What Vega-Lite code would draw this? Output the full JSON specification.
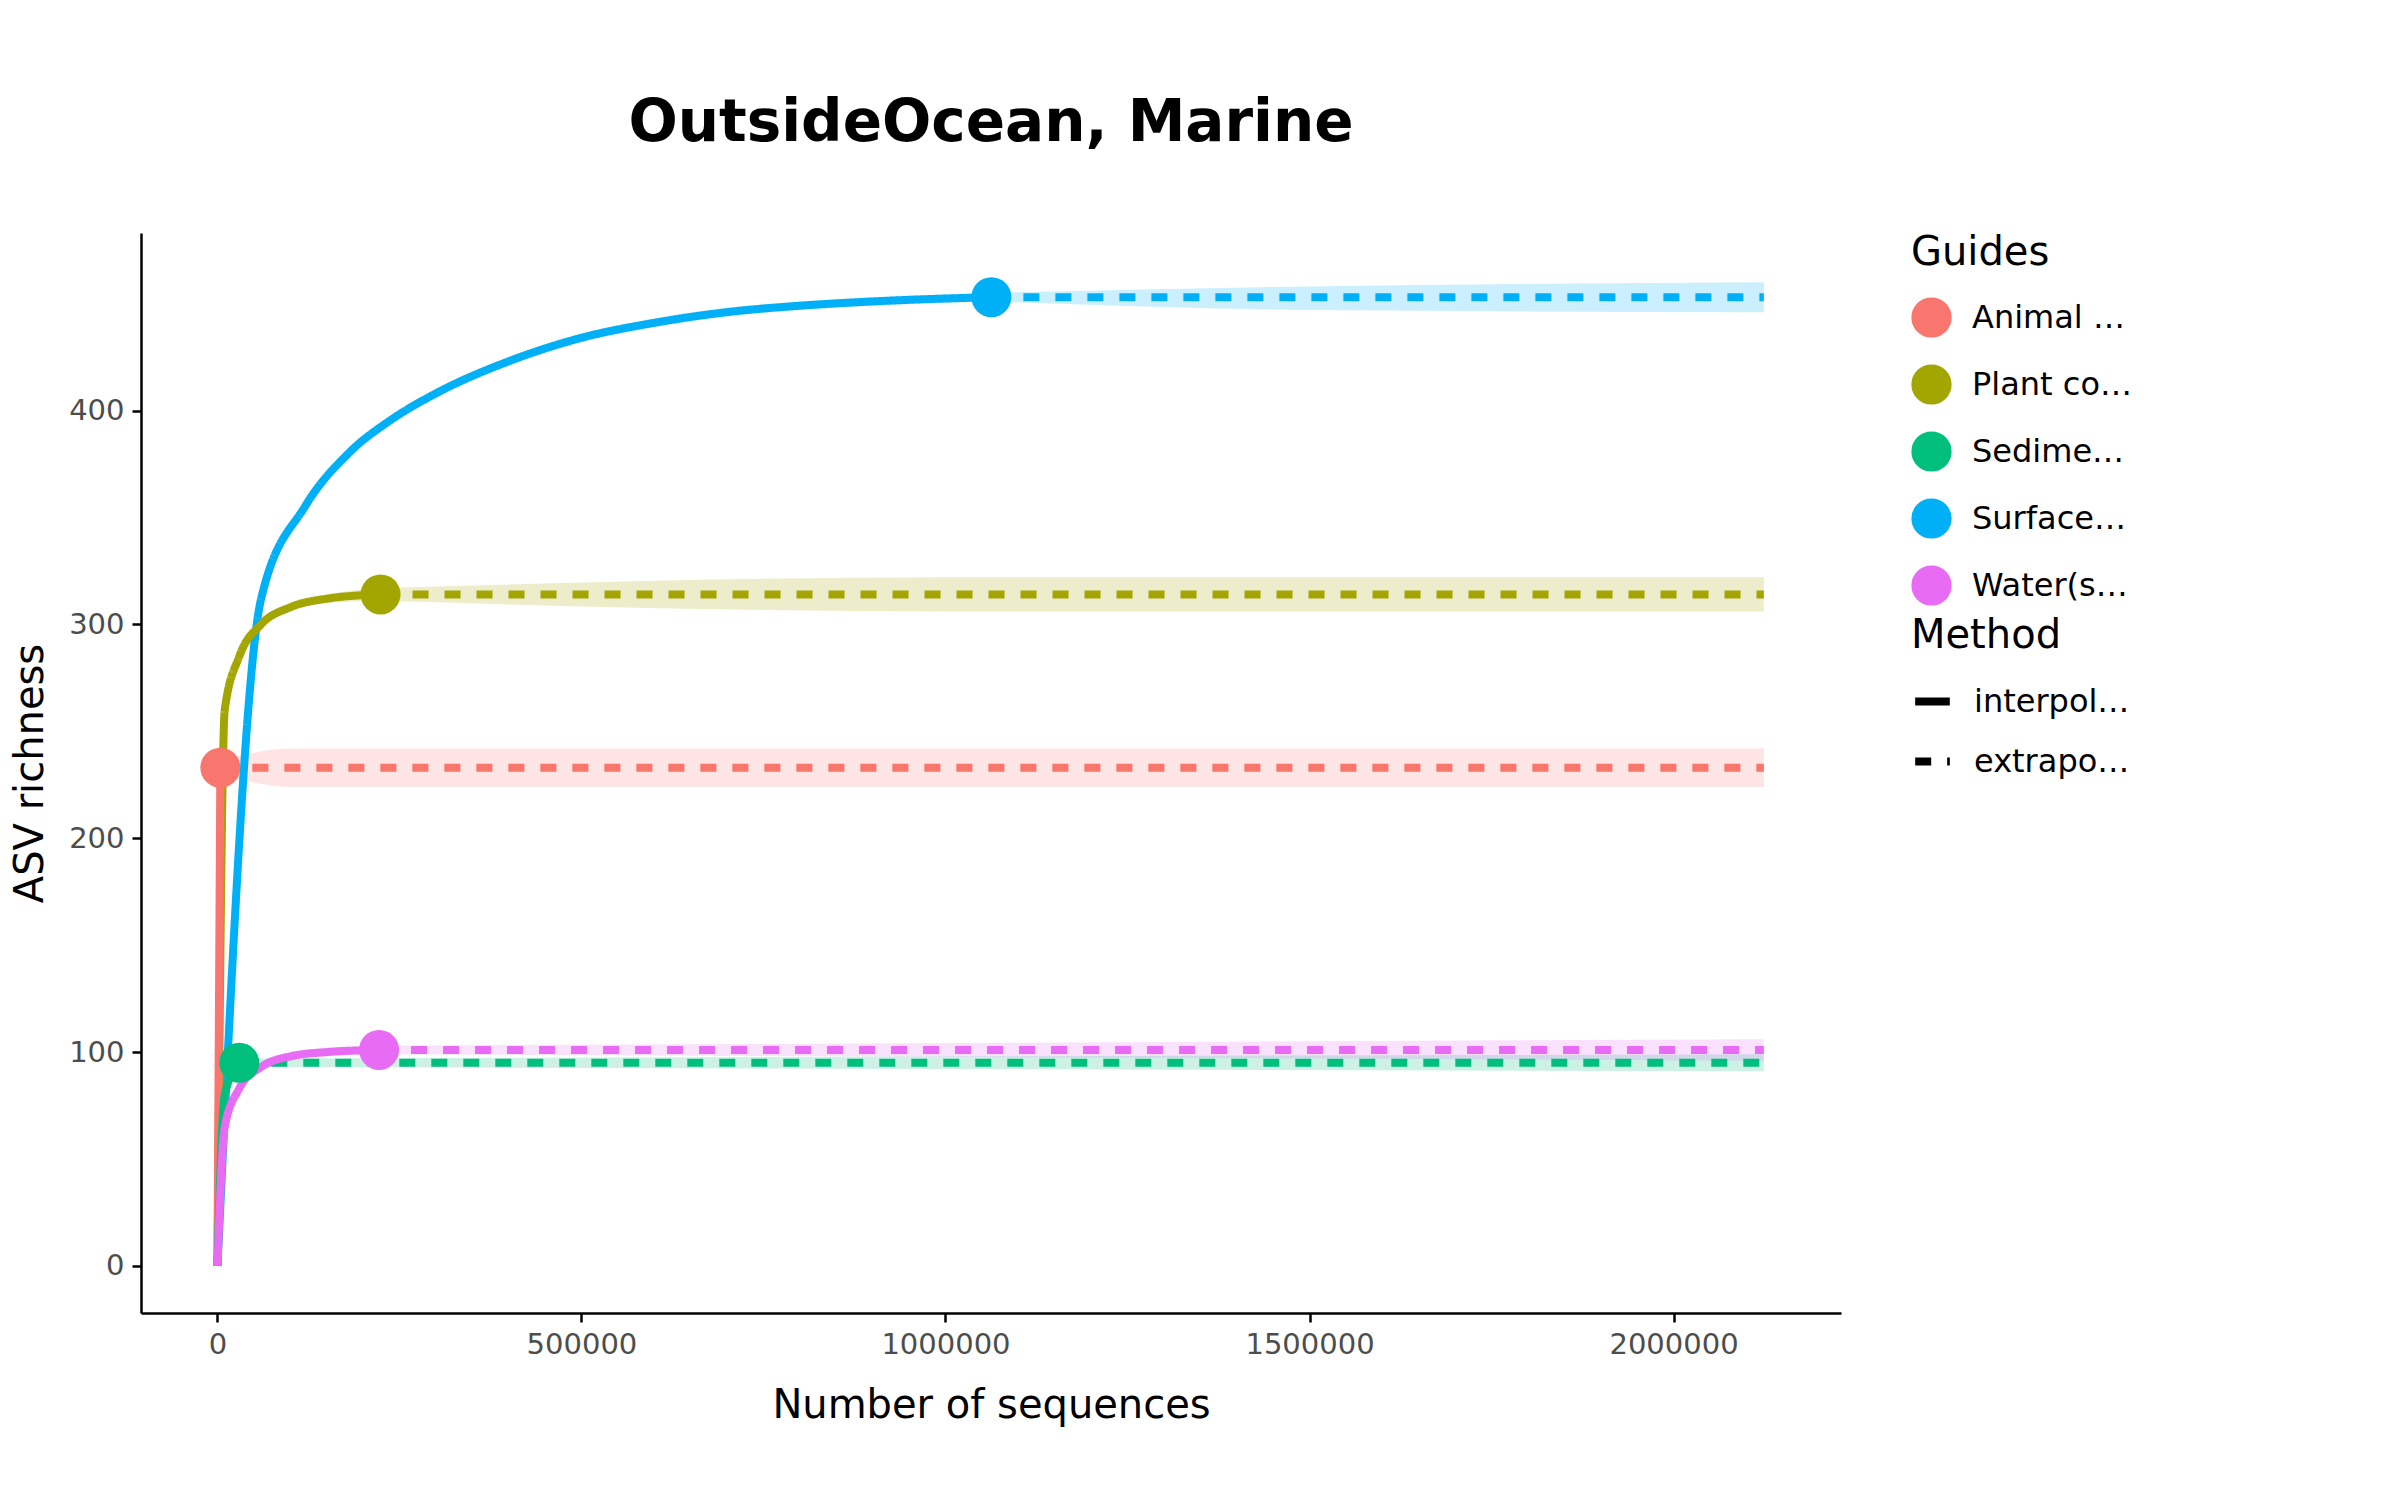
{
  "$schema": "https://vega.github.io/schema/vega-lite/v6.json",
  "width": 1700,
  "height": 1080,
  "padding": {"left": 10, "top": 95, "right": 40, "bottom": 20},
  "background": "white",
  "config": {
    "font": "DejaVu Sans",
    "view": {"stroke": null},
    "axis": {"grid": false, "domainColor": "black", "domainWidth": 2.5, "tickColor": "black", "tickWidth": 2.5, "tickSize": 9, "labelFontSize": 29, "labelColor": "#4d4d4d", "titleFontSize": 40, "titleFontWeight": "normal", "titleColor": "black", "labelPadding": 8},
    "legend": {"titleFontSize": 40, "titleFontWeight": "normal", "labelFontSize": 32, "titlePadding": 24, "rowPadding": 22, "labelOffset": 20, "offset": 70, "padding": 0}
  },
  "title": {"text": "OutsideOcean, Marine", "fontSize": 58, "fontWeight": "bold", "offset": 80, "anchor": "middle"},
  "data": {"values": [
    {"group": "Surface (saline)", "x": 0, "y": 0, "lo": 0, "hi": 0, "method": "interpolated"},
    {"group": "Surface (saline)", "x": 60000, "y": 312, "lo": 310, "hi": 314, "method": "interpolated"},
    {"group": "Surface (saline)", "x": 120000, "y": 355, "lo": 353, "hi": 357, "method": "interpolated"},
    {"group": "Surface (saline)", "x": 180000, "y": 380, "lo": 378, "hi": 382, "method": "interpolated"},
    {"group": "Surface (saline)", "x": 240000, "y": 396, "lo": 394, "hi": 398, "method": "interpolated"},
    {"group": "Surface (saline)", "x": 300000, "y": 408, "lo": 406, "hi": 410, "method": "interpolated"},
    {"group": "Surface (saline)", "x": 400000, "y": 423, "lo": 421, "hi": 425, "method": "interpolated"},
    {"group": "Surface (saline)", "x": 500000, "y": 434, "lo": 432, "hi": 436, "method": "interpolated"},
    {"group": "Surface (saline)", "x": 600000, "y": 441, "lo": 439, "hi": 443, "method": "interpolated"},
    {"group": "Surface (saline)", "x": 700000, "y": 446, "lo": 444, "hi": 448, "method": "interpolated"},
    {"group": "Surface (saline)", "x": 800000, "y": 449, "lo": 447, "hi": 451, "method": "interpolated"},
    {"group": "Surface (saline)", "x": 900000, "y": 451, "lo": 449, "hi": 453, "method": "interpolated"},
    {"group": "Surface (saline)", "x": 1063000, "y": 453, "lo": 451, "hi": 455, "method": "interpolated", "obs": true},
    {"group": "Surface (saline)", "x": 1063000, "y": 453, "lo": 451, "hi": 455, "method": "extrapolated"},
    {"group": "Surface (saline)", "x": 1500000, "y": 453, "lo": 447, "hi": 458, "method": "extrapolated"},
    {"group": "Surface (saline)", "x": 2124000, "y": 453, "lo": 446, "hi": 460, "method": "extrapolated"},
    {"group": "Plant corpus", "x": 0, "y": 0, "lo": 0, "hi": 0, "method": "interpolated"},
    {"group": "Plant corpus", "x": 10000, "y": 260, "lo": 258, "hi": 262, "method": "interpolated"},
    {"group": "Plant corpus", "x": 30000, "y": 285, "lo": 283, "hi": 287, "method": "interpolated"},
    {"group": "Plant corpus", "x": 60000, "y": 300, "lo": 298, "hi": 302, "method": "interpolated"},
    {"group": "Plant corpus", "x": 100000, "y": 308, "lo": 306, "hi": 310, "method": "interpolated"},
    {"group": "Plant corpus", "x": 150000, "y": 312, "lo": 310, "hi": 314, "method": "interpolated"},
    {"group": "Plant corpus", "x": 224000, "y": 314, "lo": 311, "hi": 317, "method": "interpolated", "obs": true},
    {"group": "Plant corpus", "x": 224000, "y": 314, "lo": 311, "hi": 317, "method": "extrapolated"},
    {"group": "Plant corpus", "x": 1000000, "y": 314, "lo": 306, "hi": 322, "method": "extrapolated"},
    {"group": "Plant corpus", "x": 2124000, "y": 314, "lo": 306, "hi": 322, "method": "extrapolated"},
    {"group": "Animal corpus", "x": 0, "y": 0, "lo": 0, "hi": 0, "method": "interpolated"},
    {"group": "Animal corpus", "x": 4000, "y": 233, "lo": 230, "hi": 236, "method": "interpolated", "obs": true},
    {"group": "Animal corpus", "x": 4000, "y": 233, "lo": 230, "hi": 236, "method": "extrapolated"},
    {"group": "Animal corpus", "x": 100000, "y": 233, "lo": 224, "hi": 242, "method": "extrapolated"},
    {"group": "Animal corpus", "x": 2124000, "y": 233, "lo": 224, "hi": 242, "method": "extrapolated"},
    {"group": "Sediment(saline)", "x": 0, "y": 0, "lo": 0, "hi": 0, "method": "interpolated"},
    {"group": "Sediment(saline)", "x": 10000, "y": 80, "lo": 78, "hi": 82, "method": "interpolated"},
    {"group": "Sediment(saline)", "x": 30000, "y": 95, "lo": 93, "hi": 97, "method": "interpolated", "obs": true},
    {"group": "Sediment(saline)", "x": 30000, "y": 95, "lo": 93, "hi": 97, "method": "extrapolated"},
    {"group": "Sediment(saline)", "x": 2124000, "y": 95, "lo": 91, "hi": 99, "method": "extrapolated"},
    {"group": "Water(saline)", "x": 0, "y": 0, "lo": 0, "hi": 0, "method": "interpolated"},
    {"group": "Water(saline)", "x": 10000, "y": 65, "lo": 63, "hi": 67, "method": "interpolated"},
    {"group": "Water(saline)", "x": 30000, "y": 83, "lo": 81, "hi": 85, "method": "interpolated"},
    {"group": "Water(saline)", "x": 60000, "y": 93, "lo": 91, "hi": 95, "method": "interpolated"},
    {"group": "Water(saline)", "x": 100000, "y": 98, "lo": 96, "hi": 100, "method": "interpolated"},
    {"group": "Water(saline)", "x": 150000, "y": 100, "lo": 98, "hi": 102, "method": "interpolated"},
    {"group": "Water(saline)", "x": 222000, "y": 101, "lo": 99, "hi": 103, "method": "interpolated", "obs": true},
    {"group": "Water(saline)", "x": 222000, "y": 101, "lo": 99, "hi": 103, "method": "extrapolated"},
    {"group": "Water(saline)", "x": 2124000, "y": 101, "lo": 96, "hi": 106, "method": "extrapolated"}
  ]},
  "encoding": {
    "x": {"field": "x", "type": "quantitative", "title": "Number of sequences", "scale": {"domain": [-105000, 2230000], "nice": false, "zero": false}, "axis": {"values": [0, 500000, 1000000, 1500000, 2000000], "format": "d", "titlePadding": 26}},
    "color": {"field": "group", "type": "nominal", "title": "Guides", "scale": {"domain": ["Animal corpus", "Plant corpus", "Sediment(saline)", "Surface (saline)", "Water(saline)"], "range": ["#F8766D", "#A3A500", "#00BF7D", "#00B0F6", "#E76BF3"]}, "legend": {"symbolType": "circle", "symbolSize": 1500, "symbolOpacity": 1}}
  },
  "layer": [
    {
      "mark": {"type": "area", "opacity": 0.2, "interpolate": "monotone"},
      "encoding": {
        "y": {"field": "lo", "type": "quantitative"},
        "y2": {"field": "hi"},
        "detail": {"field": "method"}
      }
    },
    {
      "mark": {"type": "line", "strokeWidth": 8, "interpolate": "monotone"},
      "encoding": {
        "y": {"field": "y", "type": "quantitative", "title": "ASV richness", "scale": {"domain": [-22, 483], "nice": false, "zero": false}, "axis": {"values": [0, 100, 200, 300, 400], "titlePadding": 18}},
        "strokeDash": {"field": "method", "type": "nominal", "title": "Method", "scale": {"domain": ["interpolated", "extrapolated"], "range": [[1, 0], [16, 16]]}, "legend": {"symbolType": "stroke", "symbolStrokeWidth": 8, "symbolSize": 1200, "symbolStrokeColor": "black"}}
      }
    },
    {
      "transform": [{"filter": "datum.obs"}],
      "mark": {"type": "point", "filled": true, "opacity": 1, "size": 1600},
      "encoding": {
        "y": {"field": "y", "type": "quantitative"}
      }
    }
  ]
}
